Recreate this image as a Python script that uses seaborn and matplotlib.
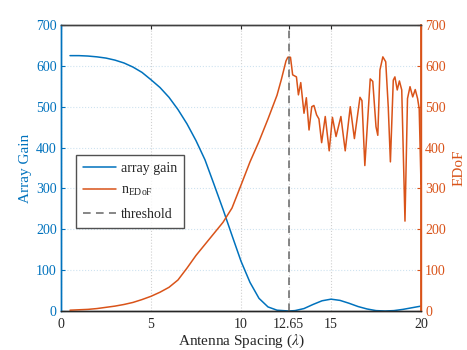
import seaborn as sns
import matplotlib.pyplot as plt
import pandas as pd

# array gain (left axis)
gain_x = [0.5, 1, 1.5, 2, 2.5, 3, 3.5, 4, 4.5, 5, 5.5, 6, 6.5, 7, 7.5, 8, 8.5, 9, 9.5, 10,
          10.5, 11, 11.5, 12, 12.65, 13, 13.5, 14, 14.5, 15, 15.5, 16, 16.5, 17, 17.5, 18,
          18.5, 19, 19.5, 20]
gain_val = [625, 625, 624, 622, 619, 614, 607, 597, 584, 566, 547, 523, 493, 458, 417, 370,
            310, 249, 185, 122, 70, 31, 10, 2, 0, 1, 6, 16, 25, 29, 26, 19, 11, 5, 1, 0,
            1, 4, 8, 12]

# n_EDoF (right axis)
edof_x = [0.5, 1, 1.5, 2, 2.5, 3, 3.5, 4, 4.5, 5, 5.5, 6, 6.5, 7, 7.5, 8, 8.5, 9, 9.5, 10,
          10.5, 11, 11.5, 12, 12.25, 12.5, 12.6, 12.75, 12.87, 13.08, 13.19, 13.32, 13.5,
          13.63, 13.78, 13.93, 14.05, 14.2, 14.33, 14.48, 14.68, 14.9, 15.08, 15.28, 15.55,
          15.79, 16.07, 16.3, 16.61, 16.72, 16.88, 17.18, 17.32, 17.5, 17.6, 17.72, 17.88,
          18.04, 18.18, 18.3, 18.46, 18.55, 18.68, 18.8, 18.93, 19.11, 19.25, 19.39, 19.54,
          19.68, 19.81, 19.9, 20]
edof_val = [2, 3, 4, 6, 9, 12, 16, 21, 28, 36, 46, 58, 76, 105, 136, 163, 190, 217, 252, 308,
            365, 415, 470, 528, 568, 612, 621, 621, 578, 573, 529, 559, 484,
            522, 443, 500, 503, 480, 470, 412, 476, 392, 474, 427, 476,
            392, 500, 422, 523, 515, 356, 568, 562, 451, 430, 590, 622,
            610, 500, 365, 565, 573, 541, 563, 541, 220, 520, 549, 524,
            542, 520, 495, 310]

threshold = 12.65
xticks = [0, 5, 10, 12.65, 15, 20]
xtick_labels = ['0', '5', '10', '12.65', '15', '20']

blue = '#0072BD'
orange = '#D95319'

sns.set_style('white')
plt.rcParams['font.family'] = ['Liberation Serif', 'DejaVu Serif']
plt.rcParams['mathtext.fontset'] = 'stix'

df_gain = pd.DataFrame({'d': gain_x, 'v': gain_val})
df_edof = pd.DataFrame({'d': edof_x, 'v': edof_val})

fig = plt.figure(figsize=(4.67, 3.5), dpi=100)
ax = fig.add_axes([0.1306, 0.1114, 0.7709, 0.8172])
ax2 = ax.twinx()

sns.lineplot(data=df_gain, x='d', y='v', ax=ax, color=blue, lw=1.1, label='array gain', legend=False)
sns.lineplot(data=df_edof, x='d', y='v', ax=ax2, color=orange, lw=1.1, label=r'$\mathregular{n_{EDoF}}$', legend=False)
ax2.axvline(threshold, color='0.4', ls=(0, (5, 3.5)), lw=1.1, label='threshold')

ax.set_xlim(0, 20)
ax.set_ylim(0, 700)
ax2.set_ylim(0, 700)
ax.set_xticks(xticks)
ax.set_xticklabels(xtick_labels)
ax.set_yticks(range(0, 701, 100))
ax2.set_yticks(range(0, 701, 100))

ax.set_xlabel(r'Antenna Spacing ($\lambda$)', fontsize=11, labelpad=1)
ax.set_ylabel('Array Gain', color=blue, fontsize=11, labelpad=3)
ax2.set_ylabel('EDoF', color=orange, fontsize=11, labelpad=5)

ax.grid(True, axis='x', ls=':', color='#d0d0d0', lw=0.8)
ax.grid(True, axis='y', ls=':', color='#cfe3f0', lw=0.8)
ax.set_axisbelow(True)

ax.tick_params(axis='x', direction='in', length=3, labelsize=10, colors='#262626', top=True, pad=5)
ax.tick_params(axis='y', direction='in', length=3, labelsize=10, colors=blue, pad=3)
ax2.tick_params(axis='y', direction='in', length=3, labelsize=10, colors=orange, pad=3)

for a in (ax, ax2):
    a.spines['top'].set_color('#404040')
    a.spines['bottom'].set_color('#262626')
    a.spines['left'].set_color(blue)
    a.spines['right'].set_color(orange)
    for s in a.spines.values():
        s.set_linewidth(1.0)
ax2.spines['right'].set_linewidth(1.3)

h1, l1 = ax.get_legend_handles_labels()
h2, l2 = ax2.get_legend_handles_labels()
handles = [h1[0], h2[0], h2[1]]
labels = [l1[0], l2[0], l2[1]]
leg = ax2.legend(handles, labels, loc='lower left', bbox_to_anchor=(0.042, 0.29),
                 borderaxespad=0, fontsize=10, frameon=True, fancybox=False,
                 edgecolor='#262626', handlelength=2.4, borderpad=0.5,
                 labelspacing=0.7, handletextpad=0.3)
leg.get_frame().set_linewidth(1.0)

fig.savefig('out.png', dpi=100)
